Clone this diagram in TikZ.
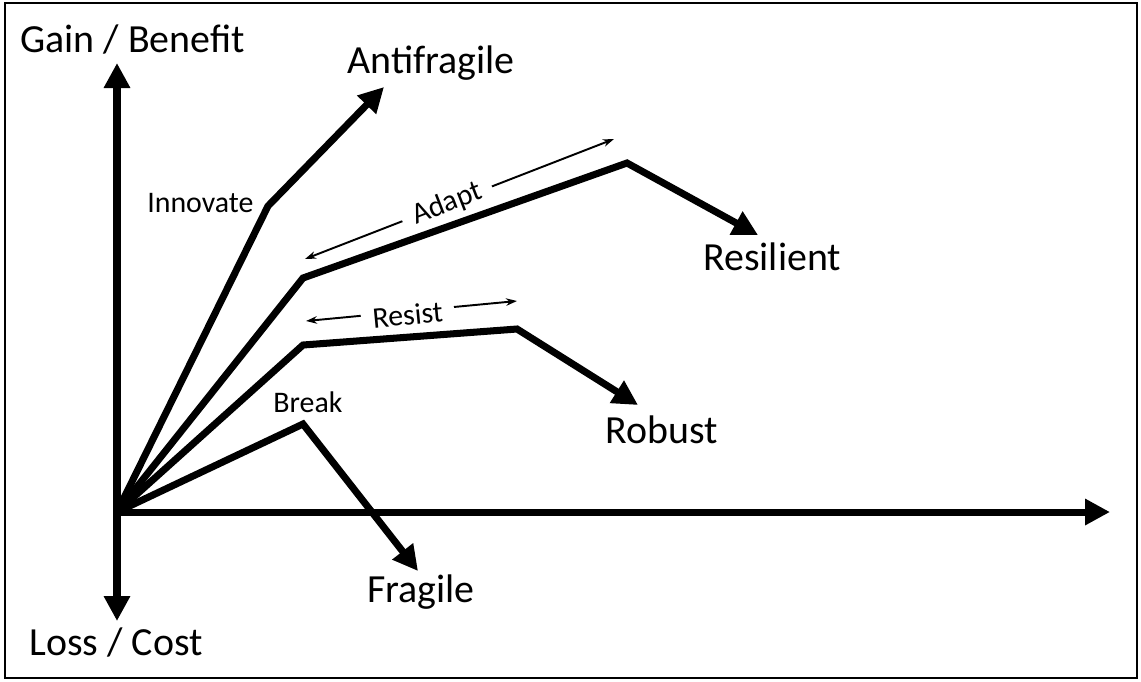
\documentclass[tikz,border=0pt]{standalone}
\usepackage{fontspec}
\setmainfont{Carlito}
\usetikzlibrary{arrows.meta}

\begin{document}
\begin{tikzpicture}[x=0.02cm, y=-0.02cm,
  axis/.style={line width=4pt, {Triangle[length=0.5cm,width=0.5cm]}-{Triangle[length=0.5cm,width=0.5cm]}},
  curve/.style={line width=4pt, -{Triangle[length=0.5cm,width=0.5cm]}},
  span/.style={line width=1.1pt, {Stealth[length=0.22cm,width=0.15cm]}-{Stealth[length=0.22cm,width=0.15cm]}},
  gaplabel/.style={font=\fontsize{17}{20}\selectfont, fill=white, sloped, inner xsep=0.23cm, inner ysep=1pt},
  biglabel/.style={font=\fontsize{22.7}{27}\selectfont, inner sep=0pt},
  smalllabel/.style={font=\fontsize{17}{20}\selectfont, inner sep=0pt}]
\useasboundingbox (0,0) rectangle (1141,681);
\draw[line width=1.2pt] (5,3) rectangle (1137,678);

% axes
\coordinate (o) at (117,512);
\coordinate (yTop) at (117,63);
\coordinate (yBot) at (117,621);
\coordinate (xEnd) at (1110,512);
\draw[axis] (yBot) -- (yTop);
\draw[curve] (o) -- (xEnd);

% bend points and tips
\coordinate (innov) at (268,206);
\coordinate (afTip) at (384,87);
\coordinate (adLow) at (303,278);
\coordinate (adHigh) at (627,163);
\coordinate (reTip) at (758,235);
\coordinate (rsLow) at (303,345);
\coordinate (rsHigh) at (517,329);
\coordinate (roTip) at (638,405);
\coordinate (brk) at (303,424);
\coordinate (frTip) at (418,571);

\draw[curve] (o) -- (innov) -- (afTip);
\draw[curve] (o) -- (adLow) -- (adHigh) -- (reTip);
\draw[curve] (o) -- (rsLow) -- (rsHigh) -- (roTip);
\draw[curve] (o) -- (brk) -- (frTip);

% spans
\coordinate (adA) at (305,259);
\coordinate (adB) at (614,139);
\coordinate (rsA) at (306,321);
\coordinate (rsB) at (517,301);
\draw[span] (adA) -- node[gaplabel, pos=0.46] (adapt) {Adapt} (adB);
\draw[span] (rsA) -- node[gaplabel, pos=0.48, yshift=-2pt] (resist) {Resist} (rsB);

% labels
\node[biglabel, anchor=base west] (gain) at (20,52) {Gain / Benefit};
\node[biglabel, anchor=base east] (loss) at (203,655) {Loss / Cost};
\node[biglabel, anchor=base west] (antifragile) at (347,73) {Antifragile};
\node[biglabel, anchor=base west] (resilient) at (703,270) {Resilient};
\node[biglabel, anchor=base west] (robust) at (605,443) {Robust};
\node[biglabel, anchor=base west] (fragile) at (367,602) {Fragile};
\node[smalllabel, anchor=base west] (innovate) at (147,212) {Innovate};
\node[smalllabel, anchor=base west] (break) at (273,412) {Break};
\end{tikzpicture}
\end{document}
